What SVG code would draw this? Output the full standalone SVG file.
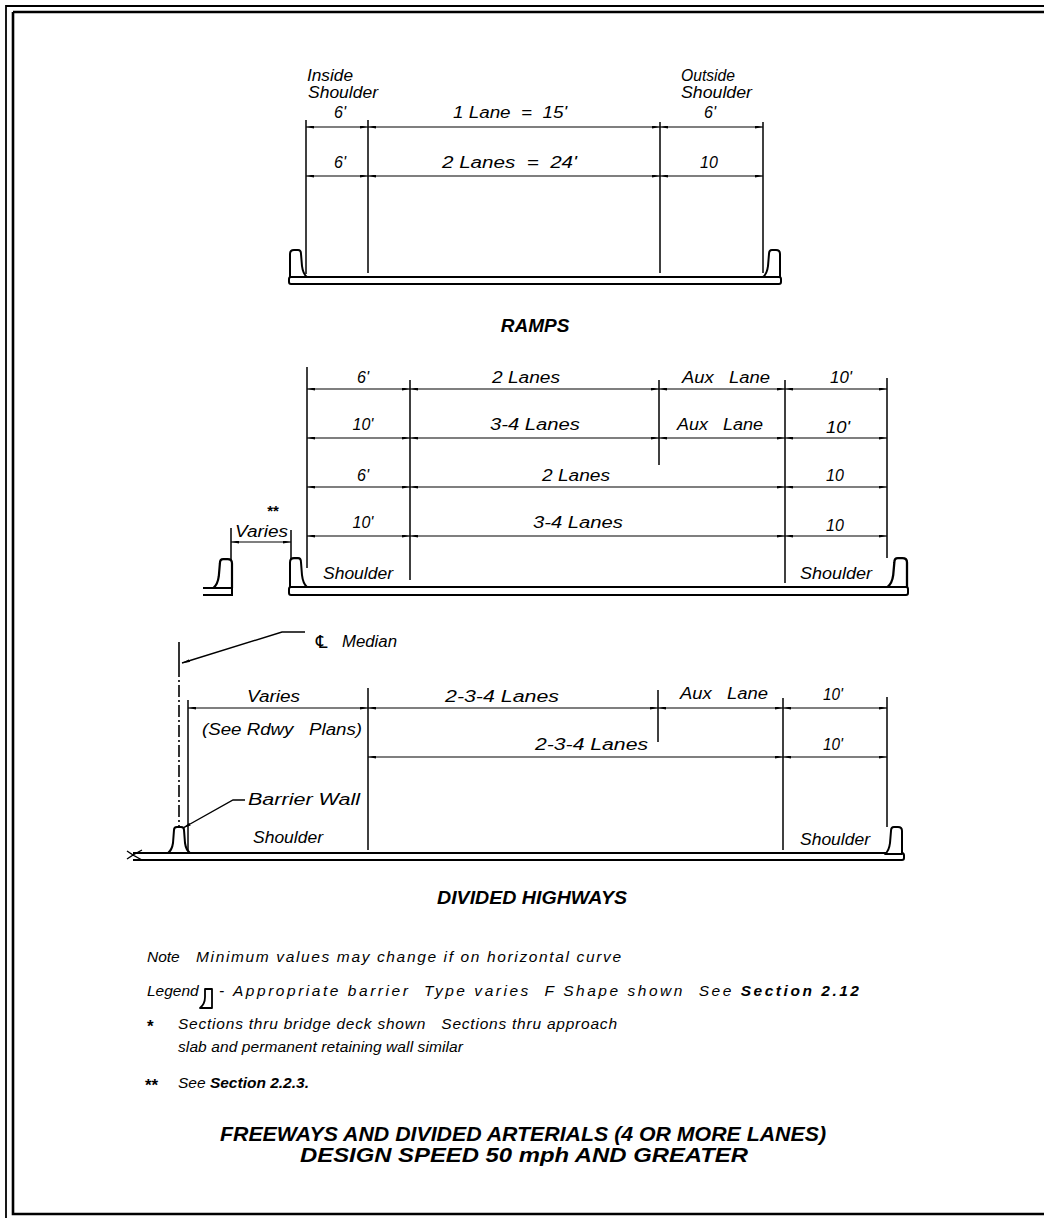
<svg xmlns="http://www.w3.org/2000/svg" width="1044" height="1218" viewBox="0 0 1044 1218">
<style>
text{font-family:"Liberation Sans",Arial,sans-serif;font-style:italic;fill:#000}
.l{font-size:16px}
.c{text-anchor:middle}
.n{font-size:15.5px}
.b{font-weight:bold}
.h{font-size:19px;font-weight:bold}
.t{font-size:20px;font-weight:bold}
.dim line{stroke:#000;stroke-width:1.2;marker-start:url(#ar);marker-end:url(#ar)}
.ext line{stroke:#000;stroke-width:1.5}
.deck{fill:#fff;stroke:#000;stroke-width:2}
.ldr{fill:none;stroke:#000;stroke-width:1.4;marker-end:url(#ar)}
.frame{stroke:#000;fill:none}
</style>
<defs>
<marker id="ar" viewBox="0 0 8 3" refX="8" refY="1.5" markerWidth="8" markerHeight="3" markerUnits="userSpaceOnUse" orient="auto-start-reverse"><path d="M0,0L8,1.5L0,3z" fill="#000"/></marker>
<path id="bar" d="M0,0 L0,-23 Q0,-27 4,-27 L8,-27 Q11,-27 11,-23 L12,-11 Q13,-3 17,0 Z" fill="#fff" stroke="#000" stroke-width="2" stroke-linejoin="round"/>
</defs>
<rect width="1044" height="1218" fill="#fff"/>
<g id="frame">
<path class="frame" stroke-width="1.8" d="M6,1218 V6 H1044"/>
<path class="frame" stroke-width="2.6" d="M13,12 H1044 M13,12 V1214 H1044"/>
</g>

<g id="ramps">
<g class="ext">
<line x1="306" y1="120" x2="306" y2="274"/>
<line x1="368" y1="120" x2="368" y2="273"/>
<line x1="660" y1="122" x2="660" y2="273"/>
<line x1="763" y1="122" x2="763" y2="273"/>
</g>
<g class="dim">
<line x1="306" y1="127" x2="368" y2="127"/>
<line x1="368" y1="127" x2="660" y2="127"/>
<line x1="660" y1="127" x2="763" y2="127"/>
<line x1="306" y1="176" x2="368" y2="176"/>
<line x1="368" y1="176" x2="660" y2="176"/>
<line x1="660" y1="176" x2="763" y2="176"/>
</g>
<rect class="deck" x="289" y="277" width="492" height="7" rx="2"/>
<use href="#bar" transform="translate(290,277)"/>
<use href="#bar" transform="translate(780,277) scale(-1,1)"/>
<text class="l" x="307" y="81" textLength="46" lengthAdjust="spacingAndGlyphs">Inside</text>
<text class="l" x="308" y="98" textLength="70" lengthAdjust="spacingAndGlyphs">Shoulder</text>
<text class="l" x="681" y="81" textLength="54" lengthAdjust="spacingAndGlyphs">Outside</text>
<text class="l" x="681" y="98" textLength="71" lengthAdjust="spacingAndGlyphs">Shoulder</text>
<text class="l c" x="340" y="118">6'</text>
<text class="l" x="453" y="118" textLength="114" lengthAdjust="spacingAndGlyphs" xml:space="preserve">1 Lane  =  15'</text>
<text class="l c" x="710" y="118">6'</text>
<text class="l c" x="340" y="168">6'</text>
<text class="l" x="442" y="168" textLength="135" lengthAdjust="spacingAndGlyphs" xml:space="preserve">2 Lanes  =  24'</text>
<text class="l c" x="709" y="168">10</text>
<text class="h c" x="535" y="332">RAMPS</text>
</g>

<g id="freeway">
<g class="ext">
<line x1="307" y1="367" x2="307" y2="568"/>
<line x1="410" y1="380" x2="410" y2="580"/>
<line x1="659" y1="380" x2="659" y2="465"/>
<line x1="785" y1="380" x2="785" y2="583"/>
<line x1="887" y1="378" x2="887" y2="558"/>
<line x1="231" y1="528" x2="231" y2="560"/>
<line x1="291" y1="530" x2="291" y2="560"/>
</g>
<g class="dim">
<line x1="307" y1="389" x2="410" y2="389"/>
<line x1="410" y1="389" x2="659" y2="389"/>
<line x1="659" y1="389" x2="785" y2="389"/>
<line x1="785" y1="389" x2="887" y2="389"/>
<line x1="307" y1="438" x2="410" y2="438"/>
<line x1="410" y1="438" x2="659" y2="438"/>
<line x1="659" y1="438" x2="785" y2="438"/>
<line x1="785" y1="438" x2="887" y2="438"/>
<line x1="307" y1="487" x2="410" y2="487"/>
<line x1="410" y1="487" x2="785" y2="487"/>
<line x1="785" y1="487" x2="887" y2="487"/>
<line x1="307" y1="536" x2="410" y2="536"/>
<line x1="410" y1="536" x2="785" y2="536"/>
<line x1="785" y1="536" x2="887" y2="536"/>
<line x1="231" y1="542" x2="291" y2="542"/>
</g>
<rect class="deck" x="289" y="587" width="619" height="8" rx="2"/>
<path fill="none" stroke="#000" stroke-width="2" d="M203,588 H232 V595 H203"/>
<use href="#bar" transform="translate(232,588) scale(-1.1,1.07)"/>
<use href="#bar" transform="translate(290,587) scale(1,1.07)"/>
<use href="#bar" transform="translate(907,587) scale(-1.15,1.07)"/>
<text class="l c" x="363" y="383">6'</text>
<text class="l" x="492" y="383" textLength="68" lengthAdjust="spacingAndGlyphs">2 Lanes</text>
<text class="l" x="682" y="383" textLength="88" lengthAdjust="spacingAndGlyphs" xml:space="preserve">Aux   Lane</text>
<text class="l" x="830" y="383" textLength="22" lengthAdjust="spacingAndGlyphs">10'</text>
<text class="l c" x="363" y="430">10'</text>
<text class="l" x="490" y="430" textLength="90" lengthAdjust="spacingAndGlyphs">3-4 Lanes</text>
<text class="l" x="677" y="430" textLength="86" lengthAdjust="spacingAndGlyphs" xml:space="preserve">Aux   Lane</text>
<text class="l" x="826" y="433" textLength="24" lengthAdjust="spacingAndGlyphs">10'</text>
<text class="l c" x="363" y="481">6'</text>
<text class="l" x="542" y="481" textLength="68" lengthAdjust="spacingAndGlyphs">2 Lanes</text>
<text class="l c" x="835" y="481">10</text>
<text class="l c" x="363" y="528">10'</text>
<text class="l" x="533" y="528" textLength="90" lengthAdjust="spacingAndGlyphs">3-4 Lanes</text>
<text class="l c" x="835" y="531">10</text>
<text class="b c" x="273" y="516" style="font-size:15px;font-style:normal">**</text>
<text class="l" x="235" y="537" textLength="53" lengthAdjust="spacingAndGlyphs">Varies</text>
<text class="l" x="323" y="579" textLength="70" lengthAdjust="spacingAndGlyphs">Shoulder</text>
<text class="l" x="800" y="579" textLength="72" lengthAdjust="spacingAndGlyphs">Shoulder</text>
</g>

<g id="divided">
<path fill="none" stroke="#000" stroke-width="1.6" d="M179,642 V665"/>
<path fill="none" stroke="#000" stroke-width="1.6" stroke-dasharray="12 3 2 3" d="M179,665 V853"/>
<polyline class="ldr" points="305,632 282,632 182,663"/>
<polyline class="ldr" points="245,800 233,800 183,828"/>
<g class="ext">
<line x1="188" y1="700" x2="188" y2="852"/>
<line x1="368" y1="688" x2="368" y2="850"/>
<line x1="658" y1="690" x2="658" y2="742"/>
<line x1="783" y1="698" x2="783" y2="850"/>
<line x1="887" y1="697" x2="887" y2="827"/>
</g>
<g class="dim">
<line x1="188" y1="708" x2="368" y2="708"/>
<line x1="368" y1="708" x2="658" y2="708"/>
<line x1="658" y1="708" x2="783" y2="708"/>
<line x1="783" y1="708" x2="887" y2="708"/>
<line x1="368" y1="757" x2="783" y2="757"/>
<line x1="783" y1="757" x2="887" y2="757"/>
</g>
<path fill="#fff" stroke="#000" stroke-width="2" d="M133,853 H902 Q904,853 904,855.5 V858 Q904,860 902,860 H133"/>
<path fill="none" stroke="#000" stroke-width="1.4" d="M127,851 L133,855 L127,859 M142,850 L133,855 L142,860"/>
<path fill="#fff" stroke="#000" stroke-width="2" stroke-linejoin="round" d="M168,853 Q172,850 173,843 L174,830 Q174,827 177,827 L181,827 Q184,827 184,830 L185,843 Q186,850 190,853 Z"/>
<use href="#bar" transform="translate(902,854) scale(-1,1)"/>
<text x="316" y="648" style="font-family:'DejaVu Sans',sans-serif;font-style:normal;font-size:18px">℄</text>
<text class="l" x="342" y="647" textLength="55" lengthAdjust="spacingAndGlyphs">Median</text>
<text class="l" x="247" y="702" textLength="53" lengthAdjust="spacingAndGlyphs">Varies</text>
<text class="l" x="445" y="702" textLength="114" lengthAdjust="spacingAndGlyphs">2-3-4 Lanes</text>
<text class="l" x="680" y="699" textLength="88" lengthAdjust="spacingAndGlyphs" xml:space="preserve">Aux   Lane</text>
<text class="l" x="823" y="700" textLength="20" lengthAdjust="spacingAndGlyphs">10'</text>
<text class="l" x="202" y="735" textLength="160" lengthAdjust="spacingAndGlyphs" xml:space="preserve">(See Rdwy   Plans)</text>
<text class="l" x="535" y="750" textLength="113" lengthAdjust="spacingAndGlyphs">2-3-4 Lanes</text>
<text class="l" x="823" y="750" textLength="20" lengthAdjust="spacingAndGlyphs">10'</text>
<text class="l" x="248" y="805" textLength="112" lengthAdjust="spacingAndGlyphs">Barrier Wall</text>
<text class="l" x="253" y="843" textLength="70" lengthAdjust="spacingAndGlyphs">Shoulder</text>
<text class="l" x="800" y="845" textLength="70" lengthAdjust="spacingAndGlyphs">Shoulder</text>
<text class="h" x="437" y="904" textLength="190" lengthAdjust="spacingAndGlyphs">DIVIDED HIGHWAYS</text>
</g>

<g id="notes">
<text class="n" x="147" y="962">Note</text>
<text class="n" x="196" y="962" textLength="425" lengthAdjust="spacing">Minimum values may change if on horizontal curve</text>
<text class="n" x="147" y="996">Legend</text>
<path fill="#fff" stroke="#000" stroke-width="1.8" stroke-linejoin="round" d="M200,1008 Q205,1004 205,997 L205,989 L212,989 L212,1008 Z"/>
<text class="n" x="219" y="996" textLength="640" lengthAdjust="spacing" xml:space="preserve">- Appropriate barrier  Type varies  F Shape shown  See <tspan class="b">Section 2.12</tspan></text>
<text class="b" x="147" y="1032" style="font-size:17px;font-style:normal">*</text>
<text class="n" x="178" y="1029" textLength="439" lengthAdjust="spacing" xml:space="preserve">Sections thru bridge deck shown   Sections thru approach</text>
<text class="n" x="178" y="1052" textLength="285" lengthAdjust="spacing">slab and permanent retaining wall similar</text>
<text class="b" x="145" y="1091" style="font-size:17px;font-style:normal">**</text>
<text class="n" x="178" y="1088">See <tspan class="b">Section 2.2.3.</tspan></text>
<text class="t" x="220" y="1141" textLength="606" lengthAdjust="spacingAndGlyphs">FREEWAYS AND DIVIDED ARTERIALS (4 OR MORE LANES)</text>
<text class="t" x="300" y="1162" textLength="448" lengthAdjust="spacingAndGlyphs">DESIGN SPEED 50 mph AND GREATER</text>
</g>
</svg>
